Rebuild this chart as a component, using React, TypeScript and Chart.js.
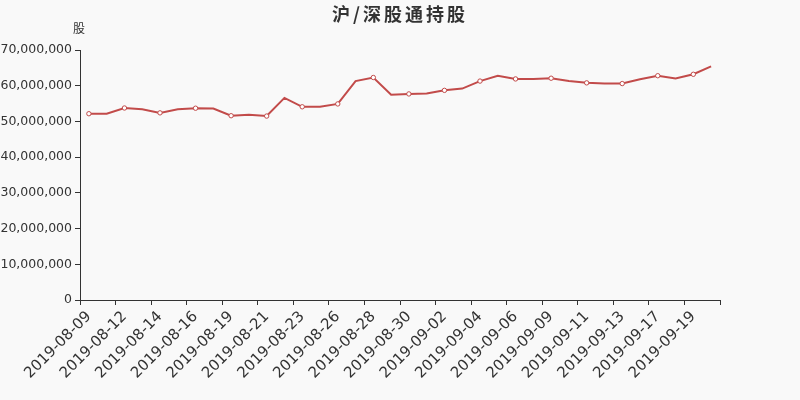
import React, { useEffect, useRef } from "react";
import { Chart, registerables } from "chart.js";

Chart.register(...registerables);

const chartTitle = "沪/深股通持股";
const yAxisName = "股";

const dates = [
  "2019-08-09", "2019-08-10", "2019-08-12", "2019-08-13", "2019-08-14", "2019-08-15",
  "2019-08-16", "2019-08-17", "2019-08-19", "2019-08-20", "2019-08-21", "2019-08-22",
  "2019-08-23", "2019-08-24", "2019-08-26", "2019-08-27", "2019-08-28", "2019-08-29",
  "2019-08-30", "2019-08-31", "2019-09-02", "2019-09-03", "2019-09-04", "2019-09-05",
  "2019-09-06", "2019-09-07", "2019-09-09", "2019-09-10", "2019-09-11", "2019-09-12",
  "2019-09-13", "2019-09-16", "2019-09-17", "2019-09-18", "2019-09-19", "2019-09-20",
];

const holdings = [
  52160000, 52160000, 53760000, 53400000, 52400000, 53400000,
  53700000, 53600000, 51600000, 51900000, 51500000, 56600000,
  54100000, 54100000, 54900000, 61300000, 62300000, 57500000,
  57700000, 57800000, 58700000, 59200000, 61300000, 62800000,
  61900000, 61900000, 62100000, 61300000, 60800000, 60600000,
  60600000, 61800000, 62800000, 62000000, 63200000, 65400000,
];

const yTicks = [0, 10000000, 20000000, 30000000, 40000000, 50000000, 60000000, 70000000];

const lineColor = "#c24b4a";
const textColor = "#333333";
const bg = "#f9f9f9";

const textPlugin = {
  id: "customTexts",
  afterDraw(chart: any) {
    const { ctx, chartArea } = chart;
    ctx.save();
    ctx.fillStyle = textColor;
    ctx.textBaseline = "middle";
    ctx.textAlign = "center";
    ctx.font = "bold 18px 'Noto Sans CJK SC', 'DejaVu Sans', sans-serif";
    try { (ctx as any).letterSpacing = "3px"; } catch (e) {}
    ctx.fillText(chartTitle, 400, 14);
    try { (ctx as any).letterSpacing = "0px"; } catch (e) {}
    ctx.font = "12px 'Noto Sans CJK SC', 'DejaVu Sans', sans-serif";
    ctx.fillText(yAxisName, chartArea.left - 1, 28);
    ctx.restore();
  },
};

const bgPlugin = {
  id: "bgFill",
  beforeDraw(chart: any) {
    const { ctx, width, height } = chart;
    ctx.save();
    ctx.fillStyle = bg;
    ctx.fillRect(0, 0, width, height);
    ctx.restore();
  },
};

export default function App() {
  const ref = useRef<HTMLCanvasElement | null>(null);
  useEffect(() => {
    if (!ref.current) return;
    const chart = new Chart(ref.current, {
      type: "line",
      data: {
        labels: dates,
        datasets: [
          {
            data: holdings,
            borderColor: lineColor,
            backgroundColor: "#ffffff",
            borderWidth: 2,
            pointRadius: (c: any) => (c.dataIndex % 2 === 0 ? 2.2 : 0),
            pointBorderWidth: 1,
            pointBorderColor: lineColor,
            pointBackgroundColor: "#ffffff",
            pointHoverRadius: 0,
            tension: 0,
            fill: false,
          },
        ],
      },
      options: {
        animation: false,
        responsive: false,
        maintainAspectRatio: false,
        devicePixelRatio: 1,
        layout: { padding: { left: 0, right: 80, top: 50, bottom: 0 } },
        plugins: {
          legend: { display: false },
          title: { display: false },
          tooltip: { enabled: false },
        },
        scales: {
          x: {
            type: "category",
            offset: true,
            afterFit: (s: any) => { s.height = 100; },
            grid: {
              offset: true,
              drawOnChartArea: false,
              drawTicks: true,
              tickLength: 5,
              color: (c: any) => (c.index === undefined || c.index % 2 === 0 ? textColor : "rgba(0,0,0,0)"),
            },
            border: { display: true, color: textColor, width: 1 },
            ticks: {
              autoSkip: false,
              maxRotation: 45,
              minRotation: 45,
              padding: 3,
              color: textColor,
              font: { family: "'DejaVu Sans', sans-serif", size: 15 },
              callback: function (this: any, _v: any, i: number) {
                return i % 2 === 0 ? dates[i] : "";
              },
            },
          },
          y: {
            min: 0,
            max: 70000000,
            afterFit: (s: any) => { s.width = 80; },
            afterBuildTicks: (s: any) => { s.ticks = yTicks.map((v) => ({ value: v })); },
            grid: { drawOnChartArea: false, drawTicks: true, tickLength: 5, color: textColor },
            border: { display: true, color: textColor, width: 1 },
            ticks: {
              padding: 3,
              color: textColor,
              font: { family: "'DejaVu Sans', sans-serif", size: 12.5 },
              callback: (v: any) => Number(v).toLocaleString("en-US"),
            },
          },
        },
      },
      plugins: [bgPlugin, textPlugin],
    });
    return () => chart.destroy();
  }, []);
  return (
    <div style={{ position: "fixed", left: 0, top: 0, width: 800, height: 400, background: bg }}>
      <canvas ref={ref} width={800} height={400} style={{ width: 800, height: 400, display: "block" }} />
    </div>
  );
}
